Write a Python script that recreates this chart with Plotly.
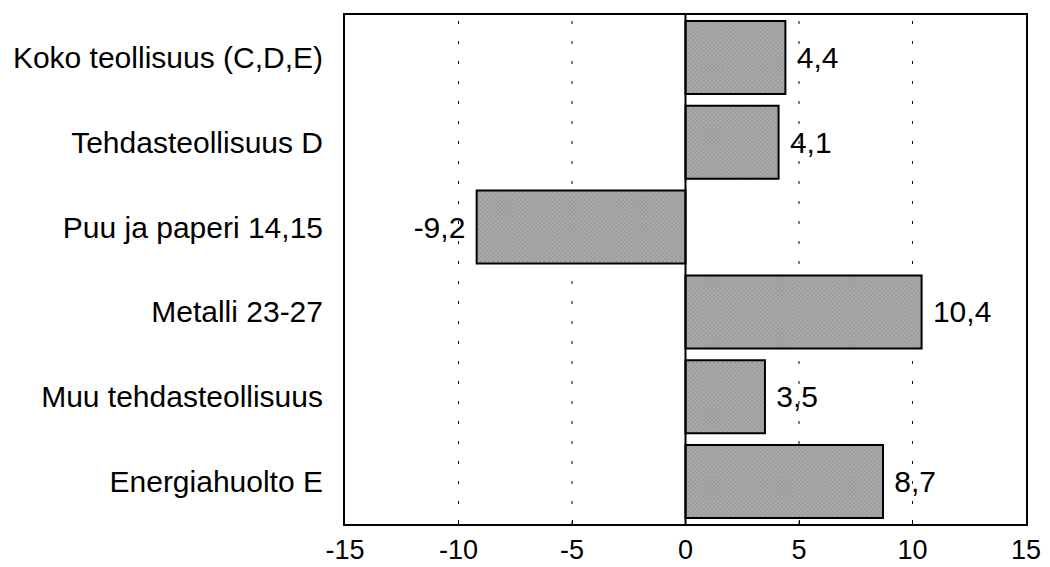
import plotly.graph_objects as go

categories = ["Koko teollisuus (C,D,E)", "Tehdasteollisuus D", "Puu ja paperi 14,15",
              "Metalli 23-27", "Muu tehdasteollisuus", "Energiahuolto E"]
values = [4.4, 4.1, -9.2, 10.4, 3.5, 8.7]
tick_vals = [-15, -10, -5, 0, 5, 10, 15]
tick_text = ["-15", "-10", "-5", "0", "5", "10", "15"]

NB = "\u00a0"
labels = []
for v in values:
    s = f"{v:.1f}".replace(".", ",")
    labels.append(s + NB if v < 0 else NB + s)

FONT = "Liberation Sans, Arial, sans-serif"

fig = go.Figure(go.Bar(
    y=categories, x=values, orientation="h",
    text=labels, textposition="outside", cliponaxis=False,
    textfont=dict(size=30, color="black", family=FONT),
    marker=dict(color="#a0a0a0", line=dict(color="black", width=2),
                pattern=dict(shape="x", size=3, solidity=0.3, fgcolor="#666666", bgcolor="#aaaaaa")),
))

for v in [-10, -5, 5, 10]:
    fig.add_shape(type="line", x0=v, x1=v, y0=0, y1=1, xref="x", yref="paper",
                  line=dict(color="black", width=1, dash="3px,17px"), layer="below")
fig.add_shape(type="line", x0=0, x1=0, y0=0, y1=1, xref="x", yref="paper",
              line=dict(color="black", width=2), layer="above")

fig.update_layout(
    width=1042, height=567,
    margin=dict(l=336, r=24, t=5, b=51),
    plot_bgcolor="white", paper_bgcolor="white",
    font=dict(family=FONT, size=30, color="black"),
    bargap=0.14, showlegend=False,
)
fig.update_xaxes(range=[-15, 15], tickvals=tick_vals, ticktext=tick_text, showgrid=False,
                 zeroline=False, showline=True, linecolor="black", linewidth=2, mirror=True,
                 ticks="inside", ticklen=4, tickcolor="black", tickfont=dict(size=27),
                 ticklabelstandoff=1)
fig.update_yaxes(categoryorder="array", categoryarray=categories[::-1], showgrid=False,
                 showline=True, linecolor="black", linewidth=2, mirror=True,
                 ticks="", ticklabelstandoff=14, tickfont=dict(size=30))

fig.write_html("out.html")
